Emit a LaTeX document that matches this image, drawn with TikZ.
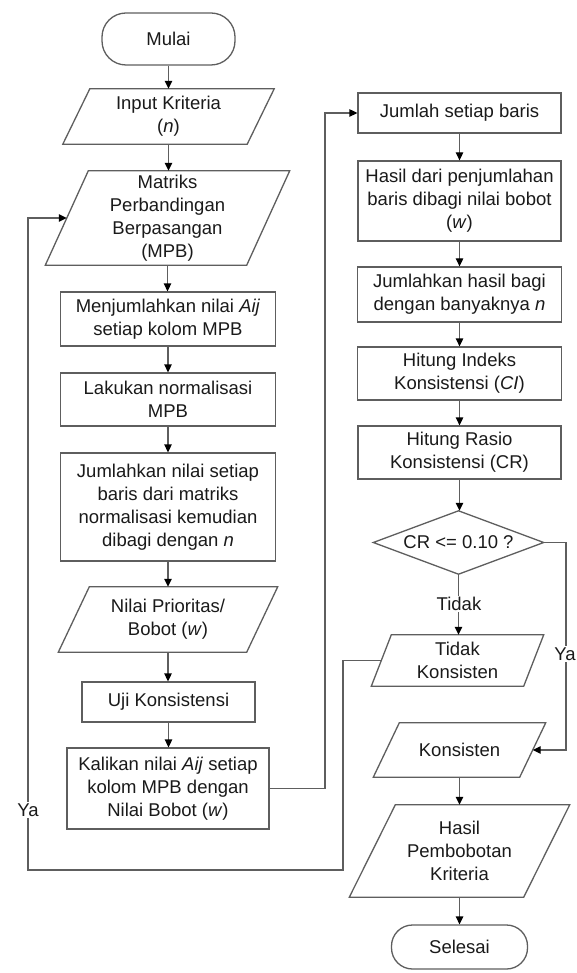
\documentclass[tikz,border=0pt]{standalone}
\usepackage{fontspec}
\setmainfont{Liberation Sans}
\usetikzlibrary{arrows.meta,calc}
\definecolor{linec}{HTML}{5E5E5E}
\definecolor{txtc}{HTML}{1A1A1A}
\newcommand{\fcsize}{\fontsize{18.5}{23}\selectfont}
\begin{document}
\begin{tikzpicture}[x=1pt,y=-1pt,
  line/.style={draw=linec, line width=1.3pt},
  arr/.style={line, -{Triangle[length=8pt,width=7.5pt,color=black]}},
  txt/.style={inner sep=0pt, align=center, text=txtc, font=\fcsize},
  box/.style={txt, draw=linec, line width=1.3pt},
  term/.style={box, rounded corners=24pt},
  lbl/.style={fill=white, inner sep=1.5pt, text=txtc, font=\fcsize}]
\useasboundingbox[fill=white] (0,0) rectangle (577,973);

% left column
\node[term, minimum width=133pt, minimum height=52pt] (start) at (168.5,39) {Mulai};
\node[txt, minimum width=184pt, minimum height=55pt] (inp) at (168.5,116.5) {Input Kriteria\\(\textit{n})};
\node[txt, minimum width=201pt, minimum height=94pt] (mpb) at (167.5,218) {Matriks\\Perbandingan\\Berpasangan\\(MPB)};
\node[box, minimum width=215pt, minimum height=54pt] (menj) at (168,319) {Menjumlahkan nilai \textit{Aij}\\setiap kolom MPB};
\node[box, minimum width=215pt, minimum height=53pt] (lak) at (168,399.5) {Lakukan normalisasi\\MPB};
\node[box, minimum width=215pt, minimum height=108pt] (jml) at (168,507) {Jumlahkan nilai setiap\\baris dari matriks\\normalisasi kemudian\\dibagi dengan \textit{n}};
\node[txt, minimum width=188pt, minimum height=65pt] (nilai) at (168,619.5) {Nilai Prioritas/\\Bobot (\textit{w})};
\node[box, minimum width=173pt, minimum height=40pt] (uji) at (168.5,702) {Uji Konsistensi};
\node[box, minimum width=202pt, minimum height=81pt] (kal) at (168,788.5) {Kalikan nilai \textit{Aij} setiap\\kolom MPB dengan\\Nilai Bobot (\textit{w})};

% right column
\node[box, minimum width=203pt, minimum height=40pt] (jsb) at (459.5,113) {Jumlah setiap baris};
\node[box, minimum width=203pt, minimum height=80pt] (hsl) at (459.5,201) {Hasil dari penjumlahan\\baris dibagi nilai bobot\\(\textit{w})};
\node[box, minimum width=204pt, minimum height=55pt] (jhb) at (459.5,294.5) {Jumlahkan hasil bagi\\dengan banyaknya \textit{n}};
\node[box, minimum width=204pt, minimum height=53pt] (ik) at (459.5,373.5) {Hitung Indeks\\Konsistensi (\textit{CI})};
\node[box, minimum width=203pt, minimum height=53pt] (cr) at (459.5,452.5) {Hitung Rasio\\Konsistensi (CR)};
\node[txt, minimum width=170pt, minimum height=63pt] (dec) at (458.5,542.5) {CR <= 0.10 ?};
\node[txt, minimum width=152pt, minimum height=51pt] (tk) at (457.5,660.5) {Tidak\\Konsisten};
\node[txt, minimum width=146pt, minimum height=54pt] (kon) at (459.5,750) {Konsisten};
\node[txt, minimum width=174pt, minimum height=92pt] (hp) at (459.5,851) {Hasil\\Pembobotan\\Kriteria};
\node[term, minimum width=136pt, minimum height=44pt, rounded corners=21pt] (end) at (459.5,947) {Selesai};

% parallelograms
\foreach \n/\h in {inp/13.5pt, mpb/21.5pt, nilai/15.5pt, tk/10pt, kon/13pt, hp/23pt}{
  \draw[line] ([xshift=\h]\n.north west) -- ([xshift=\h]\n.north east)
    -- ([xshift=-\h]\n.south east) -- ([xshift=-\h]\n.south west) -- cycle;
}
% diamond
\draw[line] (dec.north) -- (dec.east) -- (dec.south) -- (dec.west) -- cycle;

% straight connectors
\foreach \a/\b in {start/inp, inp/mpb, mpb/menj, menj/lak, lak/jml, jml/nilai, nilai/uji, uji/kal,
                   jsb/hsl, hsl/jhb, jhb/ik, ik/cr, cr/dec, kon/hp, hp/end}{
  \draw[arr] (\a.south) -- (\a.south |- \b.north);
}

% Kalikan -> Jumlah setiap baris
\coordinate (kc) at (325,788.5);
\draw[arr] (kal.east) -- (kc) |- (jsb.west);

% decision: Tidak
\draw[arr] (dec.south) -- (dec.south |- tk.north);
\node[lbl] (tidak) at (459,604) {Tidak};

% decision: Ya
\coordinate (dc) at (566,542.5);
\draw[arr] (dec.east) -- (dc) |- (kon.east);
\node[lbl] (ya2) at (565,654) {Ya};

% loop back from Tidak Konsisten to MPB
\coordinate (l1) at (343,660.5);
\coordinate (l2) at (28,870);
\draw[arr] (tk.west) -- (l1) |- (l2) |- (mpb.west);
\node[lbl] (ya1) at (28,810) {Ya};
\end{tikzpicture}
\end{document}
